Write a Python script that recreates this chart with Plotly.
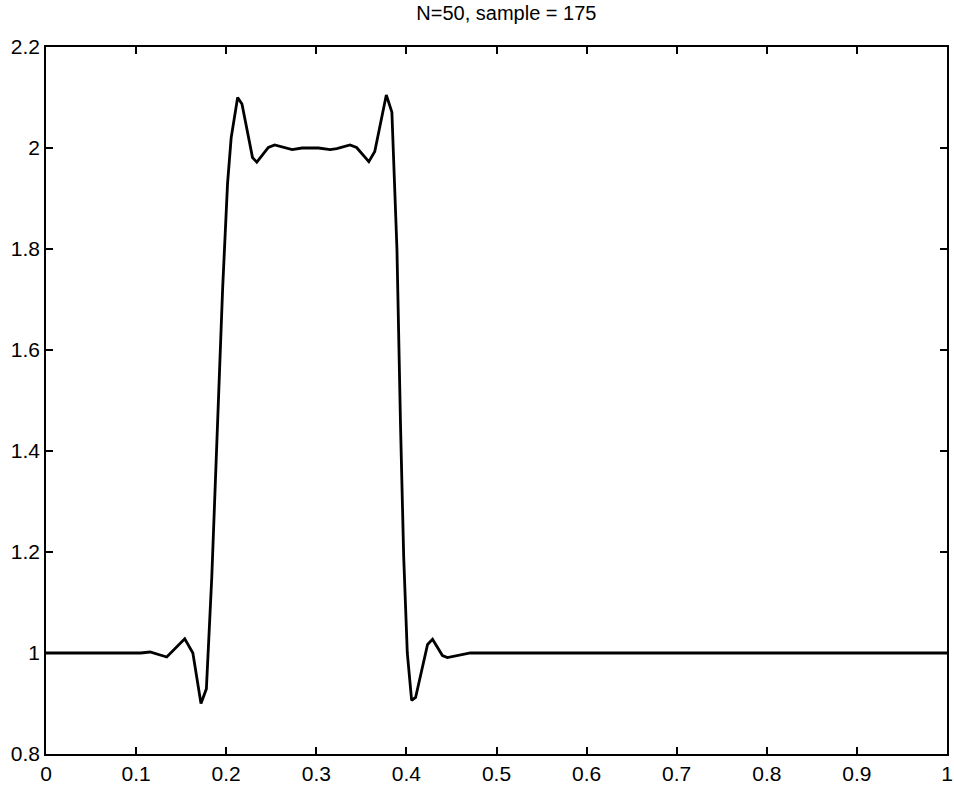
import plotly.graph_objects as go

# Values (vertices of the curve)
x_vals = [0.0, 0.105, 0.1155, 0.134, 0.154, 0.163, 0.172, 0.178, 0.184,
          0.190, 0.196, 0.2015, 0.2055, 0.2127, 0.2175, 0.2292, 0.2340,
          0.2468, 0.2538, 0.2732, 0.2842, 0.3025, 0.3154, 0.3227, 0.3374,
          0.3447, 0.3583, 0.3649, 0.3777, 0.3839, 0.3895, 0.3935, 0.397,
          0.401, 0.4058, 0.4102, 0.4235, 0.429, 0.440, 0.4455, 0.456,
          0.464, 0.471, 1.0]
y_vals = [1.0, 1.0, 1.002, 0.992, 1.028, 1.0, 0.900, 0.929, 1.15,
          1.45, 1.72, 1.93, 2.02, 2.100, 2.087, 1.981, 1.972,
          2.001, 2.006, 1.997, 2.000, 2.000, 1.997, 1.999, 2.006,
          2.001, 1.973, 1.993, 2.105, 2.071, 1.80, 1.45, 1.19,
          1.0, 0.906, 0.912, 1.017, 1.027, 0.995, 0.991, 0.995,
          0.9986, 1.0, 1.0]

title_text = "N=50, sample = 175"
x_ticks = [0, 0.1, 0.2, 0.3, 0.4, 0.5, 0.6, 0.7, 0.8, 0.9, 1]
y_ticks = [0.8, 1, 1.2, 1.4, 1.6, 1.8, 2, 2.2]

fig = go.Figure()
fig.add_trace(go.Scatter(x=x_vals, y=y_vals, mode="lines",
                         line=dict(color="black", width=2.8),
                         showlegend=False))

font_family = "Liberation Sans, Arial, Helvetica, sans-serif"
fig.update_layout(
    width=954, height=792,
    margin=dict(l=46, r=7, t=47, b=38, autoexpand=False),
    paper_bgcolor="white", plot_bgcolor="white",
    font=dict(family=font_family, size=21, color="black"),
    title=dict(text=title_text, xref="paper", x=0.511, xanchor="center",
               yref="container", y=0.993, yanchor="top",
               font=dict(size=20, family=font_family)),
)
fig.update_xaxes(range=[0, 1], tickvals=x_ticks,
                 ticktext=[("%g" % v) for v in x_ticks],
                 showgrid=False, zeroline=False, automargin=False,
                 ticklabeloverflow="allow",
                 showline=True, linecolor="black", linewidth=1.5,
                 mirror="ticks", ticks="inside", ticklen=7, tickwidth=1.5,
                 tickcolor="black", tickfont=dict(size=21))
fig.update_yaxes(range=[0.8, 2.2], tickvals=y_ticks,
                 ticktext=[("%g" % v) for v in y_ticks],
                 showgrid=False, zeroline=False, automargin=False,
                 ticklabeloverflow="allow",
                 showline=True, linecolor="black", linewidth=1.5,
                 mirror="ticks", ticks="inside", ticklen=7, tickwidth=1.5,
                 tickcolor="black", tickfont=dict(size=21))

fig.write_html("out.html",
               config={"displayModeBar": False},
               post_script="document.body.style.margin='0';"
                           "document.body.style.overflow='hidden';")
